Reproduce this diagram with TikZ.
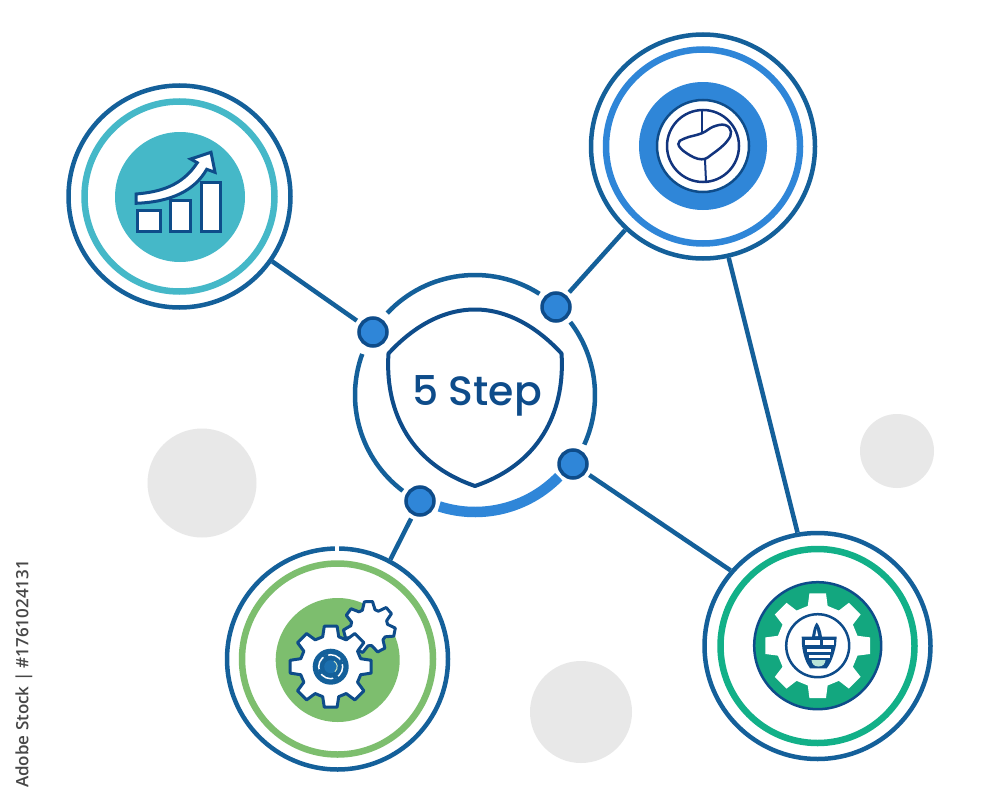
\documentclass[tikz,border=0pt]{standalone}
\usepackage{fontspec}
\setmainfont{Poppins}
\newfontfamily\titlefont{Poppins Medium}
\newfontfamily\markfont{Open Sans}[BoldFont={* Semibold}]
\definecolor{rim}{HTML}{14609A}
\definecolor{navy}{HTML}{0E4C8A}
\definecolor{deep}{HTML}{12347E}
\definecolor{teal}{HTML}{45B8C8}
\definecolor{sky}{HTML}{2F86D8}
\definecolor{leaf}{HTML}{7DBE6E}
\definecolor{jade}{HTML}{13A77F}
\definecolor{jadering}{HTML}{12B088}
\definecolor{haze}{HTML}{E8E8E8}
\definecolor{core}{HTML}{1B6FAE}
\tikzset{
  outerring/.style={circle,draw=rim,line width=4.5pt,minimum size=#1,inner sep=0pt,fill=white},
  hubdot/.style={circle,draw=navy,fill=sky,line width=3.5pt,minimum size=28pt,inner sep=0pt},
  link/.style={draw=rim,line width=4.5pt},
  linkgap/.style={link,shorten <=4pt},
  ringband/.style={draw=#1,line width=6.5pt},
  bar/.style={draw=navy,fill=white,line width=3pt},
  hubarc/.style={draw=rim,line width=4.5pt},
  gearline/.style={draw=navy,fill=white,line width=3pt,line join=round},
  bubble/.style={circle,fill=haze,inner sep=0pt,minimum size=#1}
}
% centre x, centre y, teeth, outer R, inner R, half base angle, half tip angle, rotation
\newcommand{\gearshape}[8]{[shift={(#1,#2)}] (#8-#6:#5pt)
  \foreach \k in {1,...,#3}{
    -- ({#8+(\k-1)*360/#3-#6}:#5pt)
    -- ({#8+(\k-1)*360/#3-#7}:#4pt)
    -- ({#8+(\k-1)*360/#3+#7}:#4pt)
    -- ({#8+(\k-1)*360/#3+#6}:#5pt)
  } -- cycle}
\begin{document}
\begin{tikzpicture}[x=1pt,y=-1pt]
\useasboundingbox[fill=white] (0,0) rectangle (1000,800);
% background bubbles
\node[bubble=109pt] (b1) at (202,483) {};
\node[bubble=74pt] (b2) at (897,451) {};
\node[bubble=102pt] (b3) at (581,712) {};
% main circles
\node[outerring=222pt] (chart) at (179.5,196.5) {};
\node[outerring=224pt] (pie) at (703,146.5) {};
\node[outerring=221pt] (gears) at (337.5,659) {};
\node[outerring=226pt] (cog) at (817.5,646) {};
% hub dots
\node[hubdot] (da) at (373,332) {};
\node[hubdot] (db) at (556,307) {};
\node[hubdot] (dc) at (573,464) {};
\node[hubdot] (dd) at (420,501) {};
% connectors
\draw[linkgap] (da) -- (chart.-35);
\draw[linkgap] (db) -- (pie.-133);
\draw[linkgap] (dc) -- (cog.139.6);
\draw[linkgap] (dd) -- (gears.62.7);
\draw[link] (pie.-77.8) -- (cog.100.7);
% hub ring
\coordinate (hc) at (475,395);
\draw[hubarc] (hc) ++(137:120pt) arc[start angle=137,end angle=57.5,radius=120pt];
\draw[hubarc] (hc) ++(37.4:120pt) arc[start angle=37.4,end angle=-24.4,radius=120pt];
\draw[hubarc] (hc) ++(160:120pt) arc[start angle=160,end angle=233,radius=120pt];
\draw[draw=sky,line width=10.5pt] (hc) ++(-107.8:117pt) arc[start angle=-107.8,end angle=-44.3,radius=117pt];
% shield
\draw[draw=navy,line width=4pt,line join=round] (475,309.5)
  .. controls (510,309.5) and (540,330) .. (561.5,353.5)
  .. controls (565,405) and (545,462) .. (475,486)
  .. controls (405,462) and (385,405) .. (388.5,353.5)
  .. controls (410,330) and (440,309.5) .. cycle;
\node[text=navy,font=\titlefont\fontsize{41}{41}\selectfont,inner sep=0pt] (title) at (477,396) {5 Step};
% gap in the green circle's rim
\fill[white] (334.5,545) rectangle (338.5,553);
% chart icon
\draw[ringband=teal] (179.5,196.5) circle[radius=95pt];
\fill[teal] (180,197) circle[radius=65pt];
\draw[bar] (137.7,210.7) rectangle (160,231.7);
\draw[bar] (170,200) rectangle (190.7,231.7);
\draw[bar] (201,182) rectangle (220.7,231.7);
\draw[bar,line join=miter] (136,194) .. controls (160,192) and (182,186) .. (197.3,162.7)
  -- (190.7,159) -- (211,152.3) -- (215,172.3) -- (206.7,169.3)
  .. controls (195,190) and (172,202) .. (136,203.3) -- cycle;
% pie icon
\draw[ringband=sky] (703,146.5) circle[radius=97pt];
\fill[sky] (703,146) circle[radius=64pt];
\draw[draw=navy,fill=white,line width=2.5pt] (703,146) circle[radius=46pt];
\draw[draw=deep,line width=2.5pt] (703,146) circle[radius=36pt];
\draw[draw=deep,line width=2pt] (701.7,110) -- (701.7,133.3);
\draw[draw=deep,line width=2pt] (705,160) -- (706,181.5);
\draw[draw=deep,line width=2.5pt] plot[smooth cycle,tension=0.7] coordinates {(678.3,144) (685,138.3) (701.7,133.3) (713.3,126.7) (725,125) (731,131.7) (726.7,141.7) (713.3,153.3) (701.7,159.3) (686.7,153.3)};
% gears icon
\draw[ringband=leaf] (337.5,659) circle[radius=95.5pt];
\fill[leaf] (337.7,660) circle[radius=62pt];
\draw[gearline] \gearshape{369.3}{627.3}{7}{26}{18.5}{20}{9}{92};
\draw[gearline] \gearshape{330.7}{666.7}{8}{41}{31}{15}{9}{0};
\fill[rim] (330.7,666.7) circle[radius=18pt];
\draw[white,line width=1.5pt] (330.7,666.7) circle[radius=12pt];
\foreach \a in {25,115,205,295}{\draw[rim,line width=2.5pt] (330.7,666.7) ++(\a-12:12pt) arc[start angle=\a-12,end angle=\a+12,radius=12pt];}
\fill[core] (330.7,666.7) circle[radius=6.5pt];
\draw[leaf!40!white,line width=1pt] (330.7,666.7) ++(-50:6.5pt) arc[start angle=-50,end angle=60,radius=6.5pt];
% cog icon
\draw[ringband=jadering] (817.5,646) circle[radius=97pt];
\draw[fill=jade,draw=navy,line width=2.5pt] (817.7,645.7) circle[radius=63.5pt];
\fill[white] \gearshape{817.7}{645.7}{8}{53}{41}{14}{9}{0};
\draw[draw=navy,fill=white,line width=2.5pt] (817.7,645.7) circle[radius=31.5pt];
\fill[navy] (801.7,636.7) -- (836.7,636.7) -- (836,645) .. controls (834,655) and (831,663) .. (826.7,668.3) -- (810,668.3) .. controls (806,663) and (803,655) .. (802,645) -- cycle;
\fill[navy] (812,637) .. controls (813,630) and (814.5,625) .. (816.7,622.5) .. controls (819,625) and (821,630) .. (822,637) -- cycle;
\fill[white] (815.2,636) -- (816.7,629) -- (818.2,636) -- cycle;
\fill[white] (804.5,640) rectangle (820,644.5);
\fill[white] (822.5,640) rectangle (834,644.5);
\fill[white] (806.5,648.5) rectangle (831,652);
\fill[white] (808.5,655) rectangle (829.5,657.5);
\fill[jade!30!white] (811.5,660) -- (825.5,660) .. controls (825,664) and (823,666.5) .. (818.5,666.5) .. controls (814,666.5) and (812,664) .. (811.5,660) -- cycle;
% stock mark
\node[rotate=90,text=black!72,font=\markfont\bfseries\fontsize{17}{17}\selectfont,inner sep=0pt] (stock) at (24,674) {Adobe Stock | \#1761024131};
\end{tikzpicture}
\end{document}
